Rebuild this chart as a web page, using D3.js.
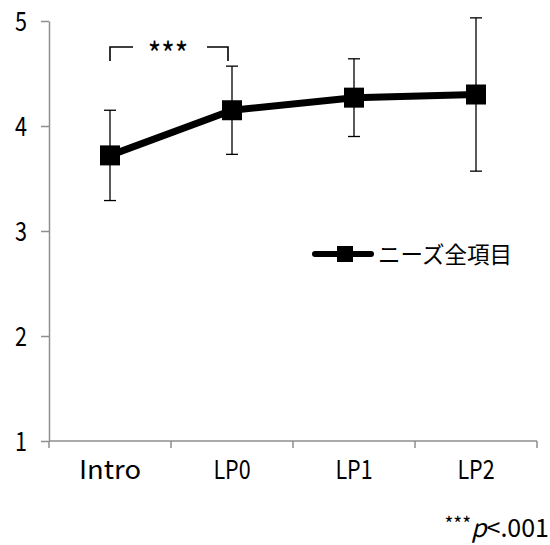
<!DOCTYPE html>
<html>
<head>
<meta charset="utf-8">
<script src="https://cdn.jsdelivr.net/npm/d3@7"></script>
<style>
  html, body { margin: 0; padding: 0; background: #fff; }
  svg { display: block; }
  .lat { font-family: "Noto Sans CJK JP", "DejaVu Sans", sans-serif; font-weight: 400; fill: #000; }
  .cjk { font-family: "Noto Sans CJK JP", sans-serif; font-weight: 400; fill: #000; }
</style>
</head>
<body>
<svg id="chart" width="550" height="545"></svg>
<script>
// Survey phases and mean score for all needs items, with SD error bars
const categories = ["Intro", "LP0", "LP1", "LP2"];
const means = [3.72, 4.15, 4.27, 4.30];
const sds = [0.43, 0.42, 0.37, 0.73];
const yTicks = [1, 2, 3, 4, 5];
const seriesName = "ニーズ全項目";

const svg = d3.select("#chart");
const axisColor = "#8e8e8e";

const x = d3.scaleBand().domain(categories).range([49, 537]).padding(0);
const y = d3.scaleLinear().domain([1, 5]).range([441, 21]);
const cx = d => x(d) + x.bandwidth() / 2;

// Narrow half-width look for Latin labels
function fitText(sel, perChar) {
  sel.attr("textLength", function () { return this.textContent.length * perChar; })
     .attr("lengthAdjust", "spacingAndGlyphs");
}

// Y axis
const yAxis = svg.append("g")
  .attr("transform", "translate(49,0)")
  .call(d3.axisLeft(y).tickValues(yTicks).tickSize(8).tickSizeOuter(0).tickPadding(14).tickFormat(d3.format("d")));
yAxis.select(".domain").attr("stroke", axisColor).attr("stroke-width", 1.5);
yAxis.selectAll(".tick line").attr("stroke", axisColor).attr("stroke-width", 1.5);
yAxis.selectAll(".tick text")
  .attr("class", "lat")
  .attr("font-size", 27)
  .attr("dy", "0.36em")
  .call(fitText, 12);

// X axis: line plus boundary ticks between categories
const xAxis = svg.append("g").attr("transform", "translate(0,441)");
xAxis.append("line")
  .attr("x1", x.range()[0]).attr("x2", x.range()[1])
  .attr("stroke", axisColor).attr("stroke-width", 1.5);
const bounds = categories.map(c => x(c)).concat([x(categories[categories.length - 1]) + x.bandwidth()]);
xAxis.selectAll(".bt").data(bounds).join("line")
  .attr("x1", d => d).attr("x2", d => d)
  .attr("y1", 0).attr("y2", 7)
  .attr("stroke", axisColor).attr("stroke-width", 1.5);
xAxis.selectAll(".xl").data(categories).join("text")
  .attr("class", "lat")
  .attr("x", d => cx(d))
  .attr("y", 38)
  .attr("text-anchor", "middle")
  .attr("font-size", 26)
  .text(d => d)
  .call(fitText, 12.4);

// Error bars
const eb = svg.append("g").attr("stroke", "#000").attr("stroke-width", 1.3);
categories.forEach((c, i) => {
  const hi = y(means[i] + sds[i]), lo = y(means[i] - sds[i]), px = cx(c);
  eb.append("line").attr("x1", px).attr("x2", px).attr("y1", hi).attr("y2", lo);
  eb.append("line").attr("x1", px - 6).attr("x2", px + 6).attr("y1", hi).attr("y2", hi);
  eb.append("line").attr("x1", px - 6).attr("x2", px + 6).attr("y1", lo).attr("y2", lo);
});

// Mean line with square markers
const line = d3.line().x((d, i) => cx(categories[i])).y(d => y(d));
svg.append("path")
  .datum(means)
  .attr("d", line)
  .attr("fill", "none")
  .attr("stroke", "#000")
  .attr("stroke-width", 7)
  .attr("stroke-linejoin", "round");
svg.selectAll(".mk").data(means).join("rect")
  .attr("x", (d, i) => cx(categories[i]) - 10)
  .attr("y", d => y(d) - 10)
  .attr("width", 20).attr("height", 20)
  .attr("fill", "#000");

// Significance bracket between Intro and LP0
const bx1 = cx(categories[0]), bx2 = cx(categories[1]) - 4;
const bTop = 47, bBot = 61;
svg.append("path")
  .attr("d", `M${bx1},${bBot}V${bTop}H${bx1 + 23}M${bx2 - 21},${bTop}H${bx2}V${bBot}`)
  .attr("fill", "none").attr("stroke", "#000").attr("stroke-width", 1.6);
svg.append("text")
  .attr("class", "lat")
  .attr("x", (bx1 + bx2) / 2 - 1)
  .attr("y", 66)
  .attr("text-anchor", "middle")
  .attr("font-size", 32)
  .text("***")
  .call(fitText, 13.5);

// Legend
const lg = svg.append("g").attr("transform", "translate(315,254)");
lg.append("line").attr("x1", 0).attr("x2", 56).attr("y1", 0).attr("y2", 0)
  .attr("stroke", "#000").attr("stroke-width", 6).attr("stroke-linecap", "round");
lg.append("rect").attr("x", 22).attr("y", -8).attr("width", 16).attr("height", 16).attr("fill", "#000");
lg.append("text")
  .attr("class", "cjk")
  .attr("x", 63)
  .attr("y", 9)
  .attr("font-size", 22.5)
  .text(seriesName);

// Footnote
const fn = svg.append("text")
  .attr("class", "lat")
  .attr("x", 549)
  .attr("y", 537)
  .attr("text-anchor", "end")
  .attr("font-size", 25);
fn.append("tspan").attr("font-size", 19).attr("dy", -6).text("***");
fn.append("tspan").attr("font-style", "italic").attr("dy", 6).text("p");
fn.append("tspan").text("<.001");
</script>
</body>
</html>
